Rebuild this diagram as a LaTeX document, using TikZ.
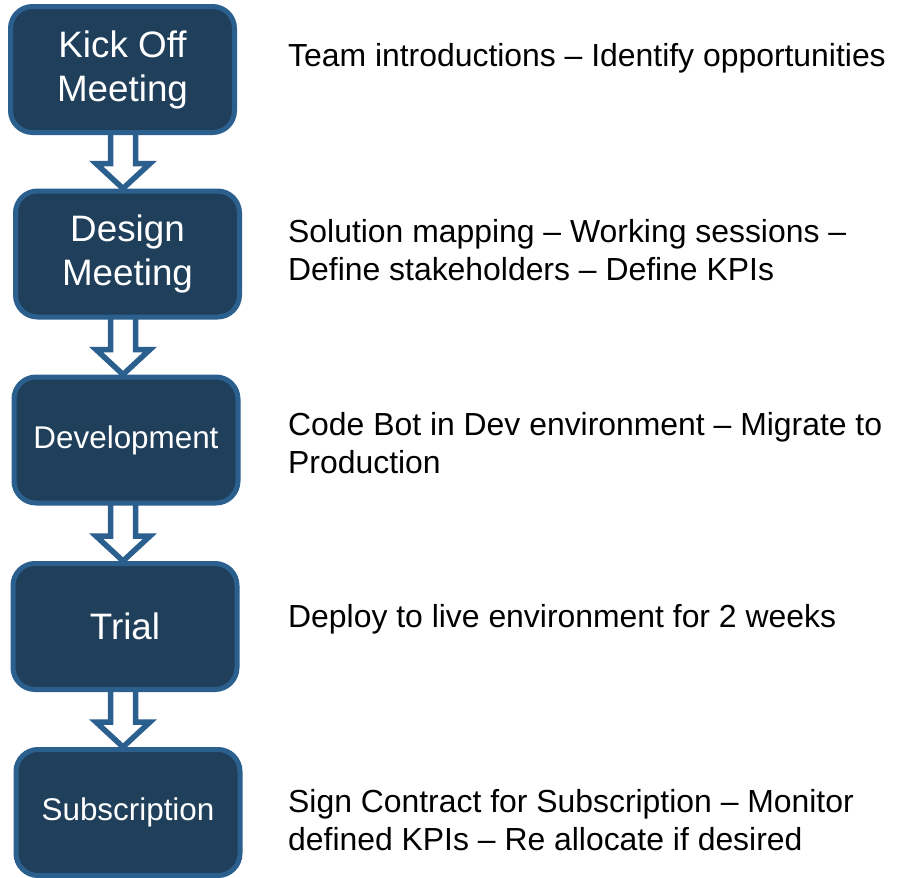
\documentclass[tikz,border=0pt]{standalone}
\usepackage{fontspec}
\setmainfont{Liberation Sans}
\usetikzlibrary{calc,backgrounds}
\definecolor{boxfill}{RGB}{31,63,91}
\definecolor{boxline}{RGB}{43,95,142}
\tikzset{
  stepbox/.style={draw=boxline, fill=boxfill, line width=5pt, rounded corners=22pt,
    minimum width=224pt, minimum height=126pt, inner sep=0pt, text=white,
    align=center, font=\fontsize{36.8}{44}\selectfont},
  smallbox/.style={stepbox, font=\fontsize{31.4}{38}\selectfont},
  desc/.style={anchor=base west, inner sep=0pt, align=left, text=black,
    font=\fontsize{31.9}{38}\selectfont},
  flowarr/.style={draw=boxline, fill=white, line width=5.5pt, line join=miter}
}
\newcommand\flowarrow[2]{%
  \draw[flowarr] let \p1=(#1.south), \p2=(#2.north) in
    (110.5pt,\y1+10pt) -- (110.5pt,\y2+25pt) -- (96pt,\y2+25pt) -- (123pt,\y2)
    -- (150pt,\y2+25pt) -- (135.5pt,\y2+25pt) -- (135.5pt,\y1+10pt);}
\begin{document}
\begin{tikzpicture}[x=1pt,y=-1pt]
\useasboundingbox (0,0) rectangle (897,878);
\node[stepbox] (b1) at (122.5,69.5) {Kick Off\\Meeting};
\node[stepbox] (b2) at (127.5,254) {Design\\Meeting};
\node[smallbox] (b3) at (126,440) {Development};
\node[stepbox] (b4) at (125,626.5) {Trial};
\node[smallbox] (b5) at (128,812.5) {Subscription};
\begin{scope}[on background layer]
\fill[white] (0,0) rectangle (897,878);
\flowarrow{b1}{b2}
\flowarrow{b2}{b3}
\flowarrow{b3}{b4}
\flowarrow{b4}{b5}
\end{scope}
\node[desc] (t1) at (288,66) {Team introductions – Identify opportunities};
\node[desc] (t2) at (288,280) {Solution mapping – Working sessions –\\Define stakeholders – Define KPIs};
\node[desc] (t3) at (288,473) {Code Bot in Dev environment – Migrate to\\Production};
\node[desc] (t4) at (288,627) {Deploy to live environment for 2 weeks};
\node[desc] (t5) at (288,850) {Sign Contract for Subscription – Monitor\\defined KPIs – Re allocate if desired};
\end{tikzpicture}
\end{document}
